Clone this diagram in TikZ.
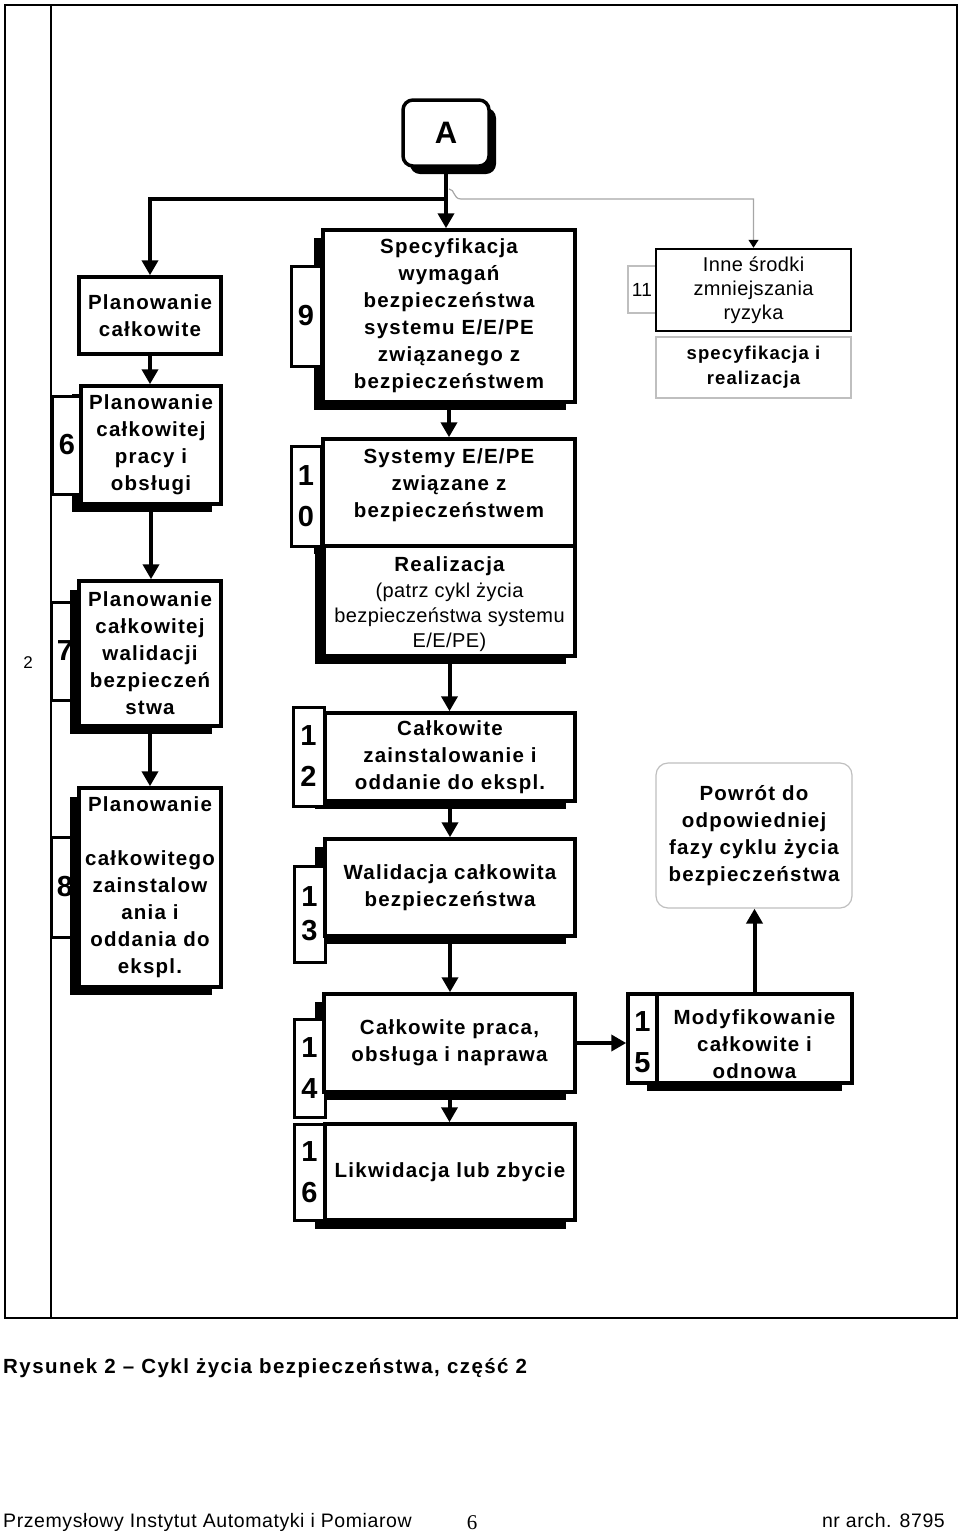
\documentclass[tikz,border=0pt]{standalone}
\usepackage{fontspec}
\usetikzlibrary{arrows.meta}
\newfontfamily\lsb{Liberation Sans}[LetterSpace=6]
\newfontfamily\lsc{Liberation Sans}[LetterSpace=7]
\newfontfamily\lsr{Liberation Sans}[LetterSpace=2]
\newfontfamily\lsf{Liberation Sans}[LetterSpace=3]
\newfontfamily\lserif{Liberation Serif}
\newcommand\bxtxt{\lsb\bfseries\fontsize{20.5}{27}\selectfont}
\newcommand\smtxt{\lsb\bfseries\fontsize{18.5}{25}\selectfont}
\newcommand\rgtxt{\lsr\mdseries\fontsize{20}{24.5}\selectfont}
\newcommand\dgtxt{\lsb\bfseries\fontsize{29}{41}\selectfont}
\begin{document}
\begin{tikzpicture}[x=1pt,y=-1pt,line join=miter,
  sz/.style 2 args={minimum width=#1pt,minimum height=#2pt},
  box/.style={draw,line width=3.5pt,fill=white,rectangle,inner sep=0pt,align=center,font=\bxtxt},
  tabb/.style={draw,line width=3pt,fill=white,rectangle,inner sep=0pt,align=center,font=\dgtxt},
  gbox/.style={draw=black!25,line width=1.2pt,fill=white,rectangle,inner sep=0pt,align=center},
  shad/.style={fill=black},
  conn/.style={line width=4pt,-{Triangle[length=15pt,width=16pt]}},
  gconn/.style={draw=black!35,line width=1.2pt,-{Triangle[length=8pt,width=10pt,color=black]}},
  txt/.style={inner sep=0pt,align=center}]
\useasboundingbox (0,0) rectangle (960,1532);
% frame
\draw[line width=1.8pt] (5,5) rectangle (957,1318);
\draw[line width=1.5pt] (51,5) -- (51,1318);
% A
\fill[rounded corners=10pt] (410,108) rectangle (496,174);
\node[draw,line width=3.5pt,fill=white,rounded corners=10pt,sz={86}{66},inner sep=0pt,font=\lsb\bfseries\fontsize{31}{36}\selectfont] (A) at (446,133) {A};
% tabs under shadows
\node[tabb,sz={28}{98}] (t7) at (65,651) {7};
\node[tabb,sz={28}{100}] (t8) at (65,887) {8};
% shadows
\fill[shad] (72,394) rectangle (212,512);
\fill[shad] (70,590) rectangle (212,734);
\fill[shad] (70,797) rectangle (212,995);
\fill[shad] (314,238) rectangle (566,410);
\fill[shad] (314,447) rectangle (566,554);
\fill[shad] (315,553) rectangle (566,664);
\fill[shad] (315,720) rectangle (566,809);
\fill[shad] (315,847) rectangle (566,944);
\fill[shad] (315,1002) rectangle (566,1100);
\fill[shad] (315,1131) rectangle (566,1229);
\fill[shad] (647,1002) rectangle (842,1091);
% tabs
\node[tabb,sz={30}{98}] (t6) at (67,445) {6};
\node[tabb,sz={30}{100}] (t9) at (306,316) {9};
\node[tabb,sz={30}{100}] (t10) at (306,496) {1\\0};
\node[tabb,sz={31}{99}] (t12) at (308.5,756.5) {1\\2};
\node[tabb,sz={31}{96}] (t13) at (309.5,914) {1\\[-7pt]3};
\node[tabb,sz={31}{98}] (t14) at (309.5,1068) {1\\4};
\node[tabb,sz={31}{96}] (t16) at (309.5,1172) {1\\6};
% left column
\node[box,sz={142}{77}] (pc) at (150,315.5) {Planowanie\\całkowite};
\node[box,sz={140}{118}] (b6) at (151,445) {Planowanie\\całkowitej\\pracy i\\obsługi};
\node[box,sz={142}{145}] (b7) at (150,653.5) {Planowanie\\całkowitej\\walidacji\\bezpieczeń\\stwa};
\node[box,sz={142}{199}] (b8) at (150,887.5) {Planowanie\\[27pt]całkowitego\\zainstalow\\ania i\\oddania do\\ekspl.};
% middle column
\node[box,sz={252}{172}] (b9) at (449,316) {Specyfikacja\\wymagań\\bezpieczeństwa\\systemu E/E/PE\\związanego z\\bezpieczeństwem};
\node[box,sz={252}{107}] (b10) at (449,492.5) {};
\node[txt,font=\bxtxt,yshift=7pt] (x10) at (b10) {Systemy E/E/PE\\związane z\\bezpieczeństwem};
\node[box,sz={251}{110}] (br) at (449.5,601) {};
\node[txt,font=\bxtxt,yshift=-3.5pt] (xr) at (br) {Realizacja\\[-1pt]\rgtxt (patrz cykl życia\\[-2pt]\rgtxt bezpieczeństwa systemu\\[-2pt]\rgtxt E/E/PE)};
\node[box,sz={250}{88}] (b12) at (450,757) {Całkowite\\zainstalowanie i\\oddanie do ekspl.};
\node[box,sz={250}{97}] (b13) at (450,887.5) {Walidacja całkowita\\bezpieczeństwa};
\node[box,sz={251}{98}] (b14) at (449.5,1043) {Całkowite praca,\\obsługa i naprawa};
\node[box,sz={250}{96}] (b16) at (450,1172) {Likwidacja lub zbycie};
% right column
\node[gbox,sz={28}{47},font=\lsr\fontsize{19}{22}\selectfont] (t11) at (642,289.5) {11};
\node[box,line width=2.5pt,sz={195}{82},font=\lsr\mdseries\fontsize{20}{24}\selectfont] (b11) at (753.5,290) {Inne środki\\zmniejszania\\ryzyka};
\node[gbox,sz={195}{61},font=\smtxt] (sr) at (753.5,367.5) {specyfikacja i\\realizacja};
\node[gbox,rounded corners=12pt,sz={196}{145},font=\bxtxt] (pw) at (754,835.5) {Powrót do\\odpowiedniej\\fazy cyklu życia\\bezpieczeństwa};
\node[tabb,line width=3.5pt,sz={29}{89}] (t15) at (642.5,1038.5) {};
\node[txt,font=\dgtxt,yshift=-4pt] (d15) at (t15) {1\\5};
\node[box,sz={195}{89}] (b15) at (754.5,1038.5) {};
\node[txt,font=\bxtxt,yshift=-5.5pt] (x15) at (b15) {Modyfikowanie\\całkowite i\\odnowa};
% connectors
\coordinate (jy) at (0,199);
\draw[conn] (A.south) -- (A.south |- b9.north);
\draw[conn] (A.south |- jy) -| (pc.north);
\coordinate (g0) at (449,189);
\coordinate (g1) at (461,199);
\draw[gconn] (g0) .. controls (455,189) and (453,199) .. (g1) -| (b11.north);
\draw[conn] (pc.south) -- (pc.south |- b6.north);
\draw[conn] (b6.south) -- (b6.south |- b7.north);
\draw[conn] (b7.south) -- (b7.south |- b8.north);
\draw[conn] (b9.south) -- (b10.north);
\draw[conn] (br.south) -- (br.south |- b12.north);
\draw[conn] (b12.south) -- (b13.north);
\draw[conn] (b13.south) -- (b13.south |- b14.north);
\draw[conn] (b14.south) -- (b14.south |- b16.north);
\draw[conn] (b14.east) -- (b14.east -| t15.west);
\draw[conn] (b15.north) -- (b15.north |- pw.south);
% labels
\node[txt,font=\lsf\fontsize{17}{20}\selectfont] (n2) at (28,663) {2};
\node[inner sep=0pt,anchor=base west,font=\lsc\bfseries\fontsize{20.5}{24}\selectfont] (cap) at (3,1373) {Rysunek 2 – Cykl życia bezpieczeństwa, część 2};
\node[inner sep=0pt,anchor=base west,font=\lsf\fontsize{19.5}{22}\selectfont] (ft1) at (3,1527) {Przemysłowy Instytut Automatyki i Pomiarow};
\node[inner sep=0pt,anchor=base,font=\lserif\fontsize{21}{24}\selectfont] (ft2) at (472,1529) {6};
\node[inner sep=0pt,anchor=base east,font=\lsf\fontsize{19.5}{22}\selectfont] (ft3) at (945,1527) {nr arch. 8795};
\end{tikzpicture}
\end{document}
